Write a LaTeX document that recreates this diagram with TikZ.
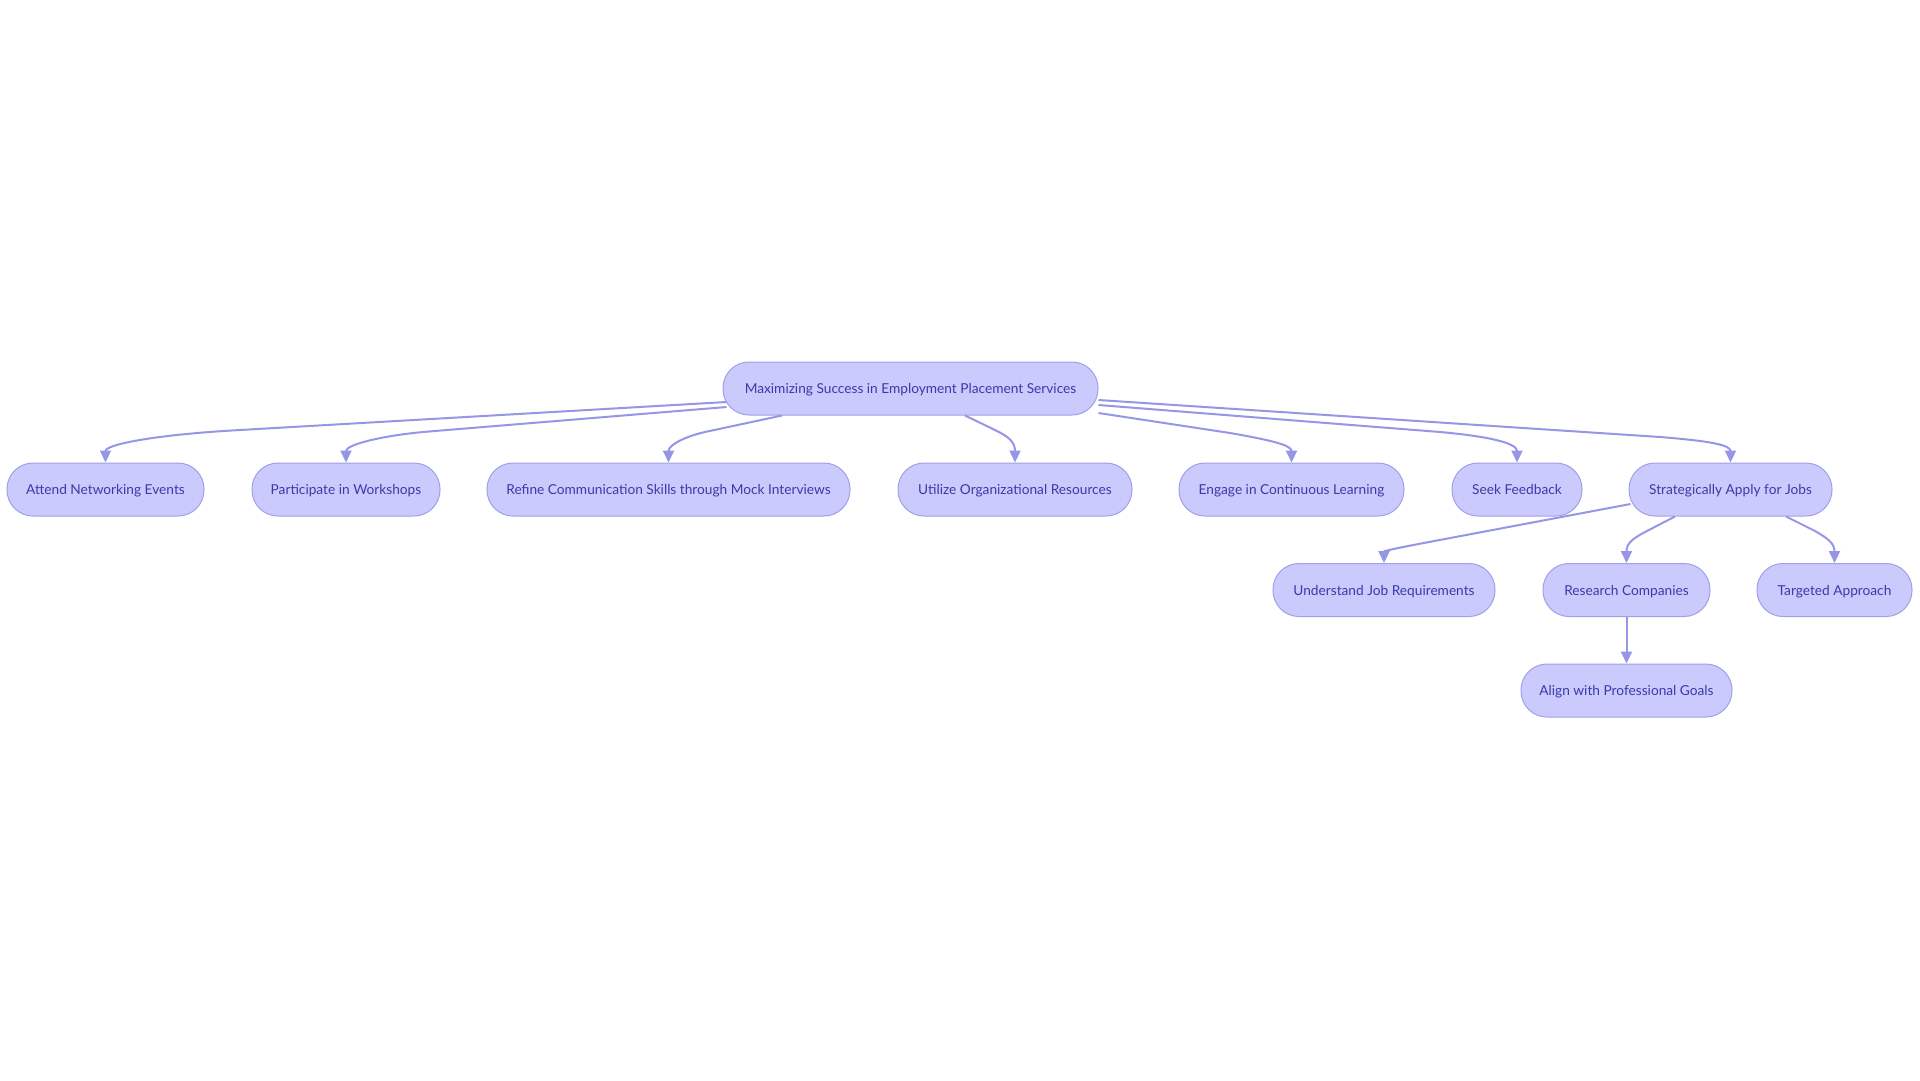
\documentclass[tikz,border=0pt]{standalone}
\usepackage{fontspec}
\setmainfont{Lato}
\usetikzlibrary{arrows.meta,calc}
\definecolor{nodefill}{RGB}{202,202,252}
\definecolor{nodeline}{RGB}{160,160,232}
\definecolor{edgecol}{RGB}{150,150,230}
\definecolor{txtcol}{RGB}{58,58,170}
\begin{document}
\begin{tikzpicture}[x=1pt,y=-1pt,
  box/.style={draw=nodeline, fill=nodefill, line width=1pt, rounded corners=26pt,
    minimum height=53pt, inner sep=0pt, text height=13pt, text depth=2.6pt,
    text=txtcol, font=\fontsize{13.7}{16}\selectfont},
  edge/.style={draw=edgecol, line width=2pt, -{Triangle[length=12pt,width=11pt]}}]
\fill[white] (0,0) rectangle (1920,1080);
\useasboundingbox (0,0) rectangle (1920,1080);

% nodes
\node[box, minimum width=375pt] (root) at (910.5,388.5) {Maximizing Success in Employment Placement Services};
\node[box, minimum width=197pt] (attend) at (105.5,489.5) {Attend Networking Events};
\node[box, minimum width=188pt] (partic) at (346,489.5) {Participate in Workshops};
\node[box, minimum width=363pt] (refine) at (668.5,489.5) {Refine Communication Skills through Mock Interviews};
\node[box, minimum width=234pt] (utilize) at (1015,489.5) {Utilize Organizational Resources};
\node[box, minimum width=225pt] (engage) at (1291.5,489.5) {Engage in Continuous Learning};
\node[box, minimum width=130pt] (seek) at (1517,489.5) {Seek Feedback};
\node[box, minimum width=203pt] (strat) at (1730.5,489.5) {Strategically Apply for Jobs};
\node[box, minimum width=222pt] (underst) at (1384,590) {Understand Job Requirements};
\node[box, minimum width=167pt] (research) at (1626.5,590) {Research Companies};
\node[box, minimum width=155pt] (targeted) at (1834.5,590) {Targeted Approach};
\node[box, minimum width=211pt] (align) at (1626.5,690.5) {Align with Professional Goals};

% edges
\draw[edge] ($(root.west)+(4,13.5)$) -- (240,430) .. controls (150,435) and (105.5,445) .. (attend.north);
\draw[edge] ($(root.west)+(4,18.5)$) -- (430,431.4) .. controls (380,435.5) and (346,445) .. (partic.north);
\draw[edge] ($(root.south)+(-128.5,0)$) -- (705,432) .. controls (685,436.5) and (668.5,445) .. (refine.north);
\draw[edge] ($(root.south)+(54.5,0)$) -- (995,430) .. controls (1007,436) and (1015,441) .. (utilize.north);
\draw[edge] ($(root.east)+(0,24.5)$) -- (1230,433) .. controls (1270,440) and (1291.5,445) .. (engage.north);
\draw[edge] ($(root.east)+(0,16.5)$) -- (1440,432) .. controls (1495,437) and (1517,444) .. (seek.north);
\draw[edge] ($(root.east)+(0,11.5)$) -- (1660,437) .. controls (1710,441) and (1730.5,445) .. (strat.north);
\draw[edge] ($(strat.west)+(2,14.5)$) -- (1420,543.7) .. controls (1395,548.5) and (1384,551) .. (underst.north);
\draw[edge] ($(strat.south)+(-55.5,0)$) -- (1645,532) .. controls (1633,538.5) and (1626.5,543) .. (research.north);
\draw[edge] ($(strat.south)+(55.5,0)$) -- (1815,531) .. controls (1827,538) and (1834.5,543) .. (targeted.north);
\draw[edge] (research.south) -- (align.north);
\end{tikzpicture}
\end{document}
